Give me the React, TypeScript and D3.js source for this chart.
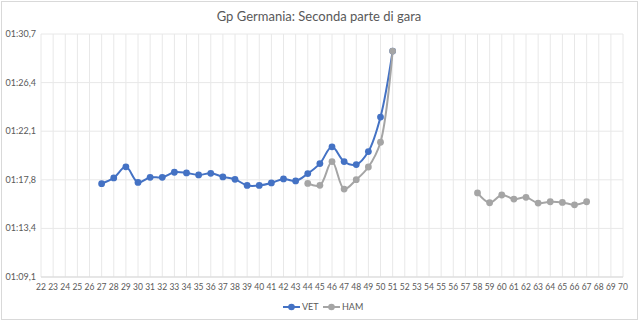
import React from "react";
import * as d3 from "d3";

const laps: number[] = d3.range(22, 71);
const vetLaps = [27, 28, 29, 30, 31, 32, 33, 34, 35, 36, 37, 38, 39, 40, 41, 42, 43, 44, 45, 46, 47, 48, 49, 50, 51];
const vetTimes = [77.42, 77.93, 78.91, 77.53, 77.98, 77.98, 78.43, 78.37, 78.19, 78.34, 78.02, 77.8, 77.26, 77.26, 77.48, 77.84, 77.66, 78.31, 79.2, 80.69, 79.38, 79.11, 80.27, 83.34, 89.2];
const hamLaps1 = [44, 45, 46, 47, 48, 49, 50, 51];
const hamTimes1 = [77.44, 77.27, 79.38, 76.94, 77.77, 78.9, 81.1, 89.2];
const hamLaps2 = [58, 59, 60, 61, 62, 63, 64, 65, 66, 67];
const hamTimes2 = [76.59, 75.72, 76.41, 76.05, 76.2, 75.69, 75.81, 75.75, 75.54, 75.81];
const yTicks = [69.12, 73.44, 77.76, 82.08, 86.4, 90.72];
const yTickLabels = ["01:09,1", "01:13,4", "01:17,8", "01:22,1", "01:26,4", "01:30,7"];
const title = "Gp Germania: Seconda parte di gara";
const seriesNames = ["VET", "HAM"];

const W = 640, H = 321;
const left = 41, right = 623, top = 34, bottom = 277;
const BLUE = "#4472C4", GRAY = "#A5A5A5";
const FONT = "Lato, 'Open Sans', sans-serif";

export default function App() {
  const x = d3.scaleLinear().domain([22, 70]).range([left, right]);
  const y = d3.scaleLinear().domain([69.12, 90.72]).range([bottom, top]);
  const line = d3
    .line<[number, number]>()
    .x((d) => x(d[0]))
    .y((d) => y(d[1]))
    .curve(d3.curveCatmullRom.alpha(0.5));
  const zip = (a: number[], b: number[]) => a.map((v, i) => [v, b[i]] as [number, number]);
  const vet = zip(vetLaps, vetTimes);
  const ham1 = zip(hamLaps1, hamTimes1);
  const ham2 = zip(hamLaps2, hamTimes2);

  return (
    <svg width={W} height={H} style={{ position: "absolute", left: 0, top: 0 }}>
      <rect x={0} y={0} width={W} height={H} fill="#fff" />
      <rect x={1.5} y={1.5} width={636} height={318} fill="none" stroke="#D9D9D9" />
      <text x={319} y={21} textAnchor="middle" fontFamily={FONT} fontSize={13} fill="#595959">
        {title}
      </text>
      {laps.map((l) => (
        <line key={"v" + l} x1={x(l)} x2={x(l)} y1={top} y2={bottom} stroke="#E8E8E8" strokeWidth={1} />
      ))}
      {yTicks.map((t) => (
        <line key={"h" + t} x1={left} x2={right} y1={y(t)} y2={y(t)} stroke="#E8E8E8" strokeWidth={1} />
      ))}
      <line x1={left} x2={right} y1={bottom} y2={bottom} stroke="#D9D9D9" />
      {yTicks.map((t, i) => (
        <text key={"yl" + t} x={36} y={y(t) + 3} textAnchor="end" fontFamily={FONT} fontSize={9} fill="#595959">
          {yTickLabels[i]}
        </text>
      ))}
      {laps.map((l) => (
        <text key={"xl" + l} x={x(l)} y={290} textAnchor="middle" fontFamily={FONT} fontSize={8.5} fill="#595959">
          {l}
        </text>
      ))}
      <path d={line(vet) || ""} fill="none" stroke={BLUE} strokeWidth={2} />
      {vet.map((d, i) => (
        <circle key={"vp" + i} cx={x(d[0])} cy={y(d[1])} r={3.4} fill={BLUE} />
      ))}
      <path d={line(ham1) || ""} fill="none" stroke={GRAY} strokeWidth={2} />
      <path d={line(ham2) || ""} fill="none" stroke={GRAY} strokeWidth={2} />
      {[...ham1, ...ham2].map((d, i) => (
        <circle key={"hp" + i} cx={x(d[0])} cy={y(d[1])} r={3.4} fill={GRAY} />
      ))}
      <g>
        <line x1={283} x2={300} y1={307} y2={307} stroke={BLUE} strokeWidth={2} />
        <circle cx={291.5} cy={307} r={3.3} fill={BLUE} />
        <text x={302} y={310} fontFamily={FONT} fontSize={9} fill="#595959">{seriesNames[0]}</text>
        <line x1={323} x2={340} y1={307} y2={307} stroke={GRAY} strokeWidth={2} />
        <circle cx={331.5} cy={307} r={3.3} fill={GRAY} />
        <text x={342} y={310} fontFamily={FONT} fontSize={9} fill="#595959">{seriesNames[1]}</text>
      </g>
    </svg>
  );
}
